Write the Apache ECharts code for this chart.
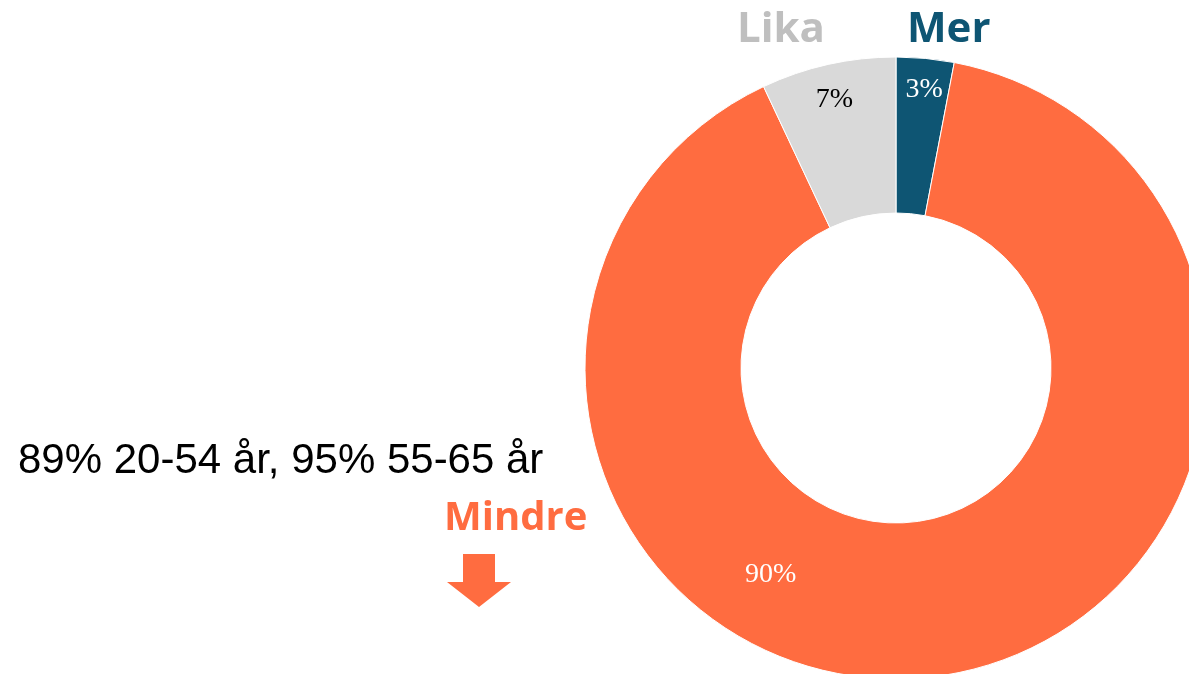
<!DOCTYPE html>
<html>
<head>
<meta charset="utf-8">
<script src="https://cdn.jsdelivr.net/npm/echarts@6/dist/echarts.min.js"></script>
<style>
  html, body { margin: 0; padding: 0; background: #fff; }
  #main { width: 1189px; height: 674px; }
</style>
</head>
<body>
<div id="main"></div>
<script>
// andelar i procent, medurs från toppen
var names = ['Mer', 'Mindre', 'Lika']
var values = [3, 90, 7]
var colors = ['#0e5573', '#ff6c40', '#d9d9d9']
var labelColors = ['#ffffff', '#ffffff', '#000000']
var note = '89% 20-54 år, 95% 55-65 år'

var chart = echarts.init(document.getElementById('main'))

// flytta procentetiketterna som i originalet
var labelShift = {
  'Mer': [6, -43],
  'Lika': [-10, -38],
  'Mindre': [-155, -27]
}

var data = []
for (var i = 0; i < names.length; i++) {
  data.push({
    name: names[i],
    value: values[i],
    itemStyle: { color: colors[i] },
    label: { color: labelColors[i] }
  })
}

var option = {
  animation: false,
  series: [
    {
      type: 'pie',
      center: [896, 368],
      radius: [155, 311],
      startAngle: 90,
      clockwise: true,
      silent: true,
      itemStyle: { borderColor: '#fff', borderWidth: 1 },
      label: {
        show: true,
        position: 'inside',
        formatter: '{c}%',
        fontFamily: 'Liberation Serif',
        fontSize: 28
      },
      labelLine: { show: false },
      labelLayout: function (params) {
        var s = labelShift[names[params.dataIndex]]
        return { dx: s[0], dy: s[1] }
      },
      data: data
    }
  ],
  graphic: [
    {
      type: 'text', left: 907, top: 9,
      style: { text: 'Mer', fill: colors[0], fontFamily: 'Open Sans', fontWeight: 'bold', fontSize: 42 }
    },
    {
      type: 'text', left: 737, top: 9,
      style: { text: 'Lika', fill: '#bfbfbf', fontFamily: 'Open Sans', fontWeight: 'bold', fontSize: 42 }
    },
    {
      type: 'text', left: 444, top: 499,
      style: { text: 'Mindre', fill: colors[1], fontFamily: 'Open Sans', fontWeight: 'bold', fontSize: 40 }
    },
    {
      type: 'text', left: 18, top: 440,
      style: { text: note, fill: '#000', fontFamily: 'Liberation Sans', fontSize: 42 }
    },
    {
      type: 'polygon',
      shape: {
        points: [[463, 554], [495, 554], [495, 582], [511, 582], [479, 607], [447, 582], [463, 582]]
      },
      style: { fill: colors[1] }
    }
  ]
}

chart.setOption(option)
</script>
</body>
</html>
